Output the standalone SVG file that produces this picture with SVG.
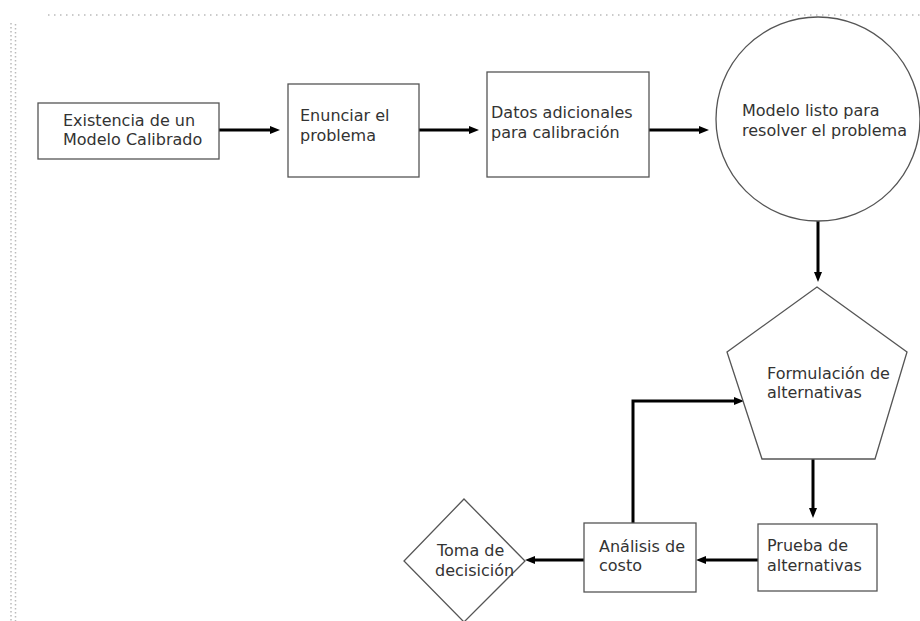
<svg xmlns="http://www.w3.org/2000/svg" width="920" height="621" viewBox="0 0 920 621">
<style>
.shape{fill:#fff;stroke:#555;stroke-width:1.3}
.lbl{font-family:"DejaVu Sans","Verdana",sans-serif;font-size:16px;fill:#333}
.conn{fill:none;stroke:#000;stroke-width:3}
.dot{fill:none;stroke:#bbb;stroke-width:1.5}
</style>
<defs>
<marker id="ah" viewBox="0 0 10 8" markerWidth="10" markerHeight="8" refX="2" refY="4" orient="auto" markerUnits="userSpaceOnUse">
<path d="M0,0 L10,4 L0,8 z" fill="#000"/>
</marker>
</defs>
<rect width="920" height="621" fill="#fff"/>
<g id="border">
<line class="dot" x1="48" y1="15" x2="920" y2="15" stroke-dasharray="1.5 4.5"/>
<line class="dot" x1="11" y1="23" x2="11" y2="621" stroke-dasharray="1.5 2.5"/>
<line class="dot" x1="15.5" y1="24" x2="15.5" y2="621" stroke-dasharray="1.5 2.5"/>
</g>
<g id="connectors">
<path class="conn" d="M219,130 H272" marker-end="url(#ah)"/>
<path class="conn" d="M419,130 H471" marker-end="url(#ah)"/>
<path class="conn" d="M649,130 H701" marker-end="url(#ah)"/>
<path class="conn" d="M818,221 V274" marker-end="url(#ah)"/>
<path class="conn" d="M813,459 V510" marker-end="url(#ah)"/>
<path class="conn" d="M758,560 H704" marker-end="url(#ah)"/>
<path class="conn" d="M584,560 H533" marker-end="url(#ah)"/>
<path class="conn" d="M633,523 V401 H736" marker-end="url(#ah)"/>
</g>
<g id="n1">
<rect class="shape" x="38" y="103" width="181" height="56"/>
<text class="lbl" x="63" y="126">Existencia de un</text>
<text class="lbl" x="63" y="145">Modelo Calibrado</text>
</g>
<g id="n2">
<rect class="shape" x="288" y="84" width="131" height="93"/>
<text class="lbl" x="300" y="121">Enunciar el</text>
<text class="lbl" x="300" y="141">problema</text>
</g>
<g id="n3">
<rect class="shape" x="487" y="72" width="162" height="105"/>
<text class="lbl" x="491" y="118">Datos adicionales</text>
<text class="lbl" x="491" y="138">para calibración</text>
</g>
<g id="n4">
<circle class="shape" cx="818" cy="119" r="102"/>
<text class="lbl" x="742" y="116">Modelo listo para</text>
<text class="lbl" x="742" y="136">resolver el problema</text>
</g>
<g id="n5">
<polygon class="shape" points="817,287 907,352 875,459 762,459 727,352"/>
<text class="lbl" x="767" y="379">Formulación de</text>
<text class="lbl" x="767" y="398">alternativas</text>
</g>
<g id="n6">
<rect class="shape" x="758" y="524" width="119" height="67"/>
<text class="lbl" x="767" y="551">Prueba de</text>
<text class="lbl" x="767" y="571">alternativas</text>
</g>
<g id="n7">
<rect class="shape" x="584" y="523" width="112" height="69"/>
<text class="lbl" x="599" y="552">Análisis de</text>
<text class="lbl" x="599" y="571">costo</text>
</g>
<g id="n8">
<polygon class="shape" points="464,499 525,561 464,622 404,561"/>
<text class="lbl" x="437" y="556">Toma de</text>
<text class="lbl" x="435" y="576">decisición</text>
</g>
</svg>
